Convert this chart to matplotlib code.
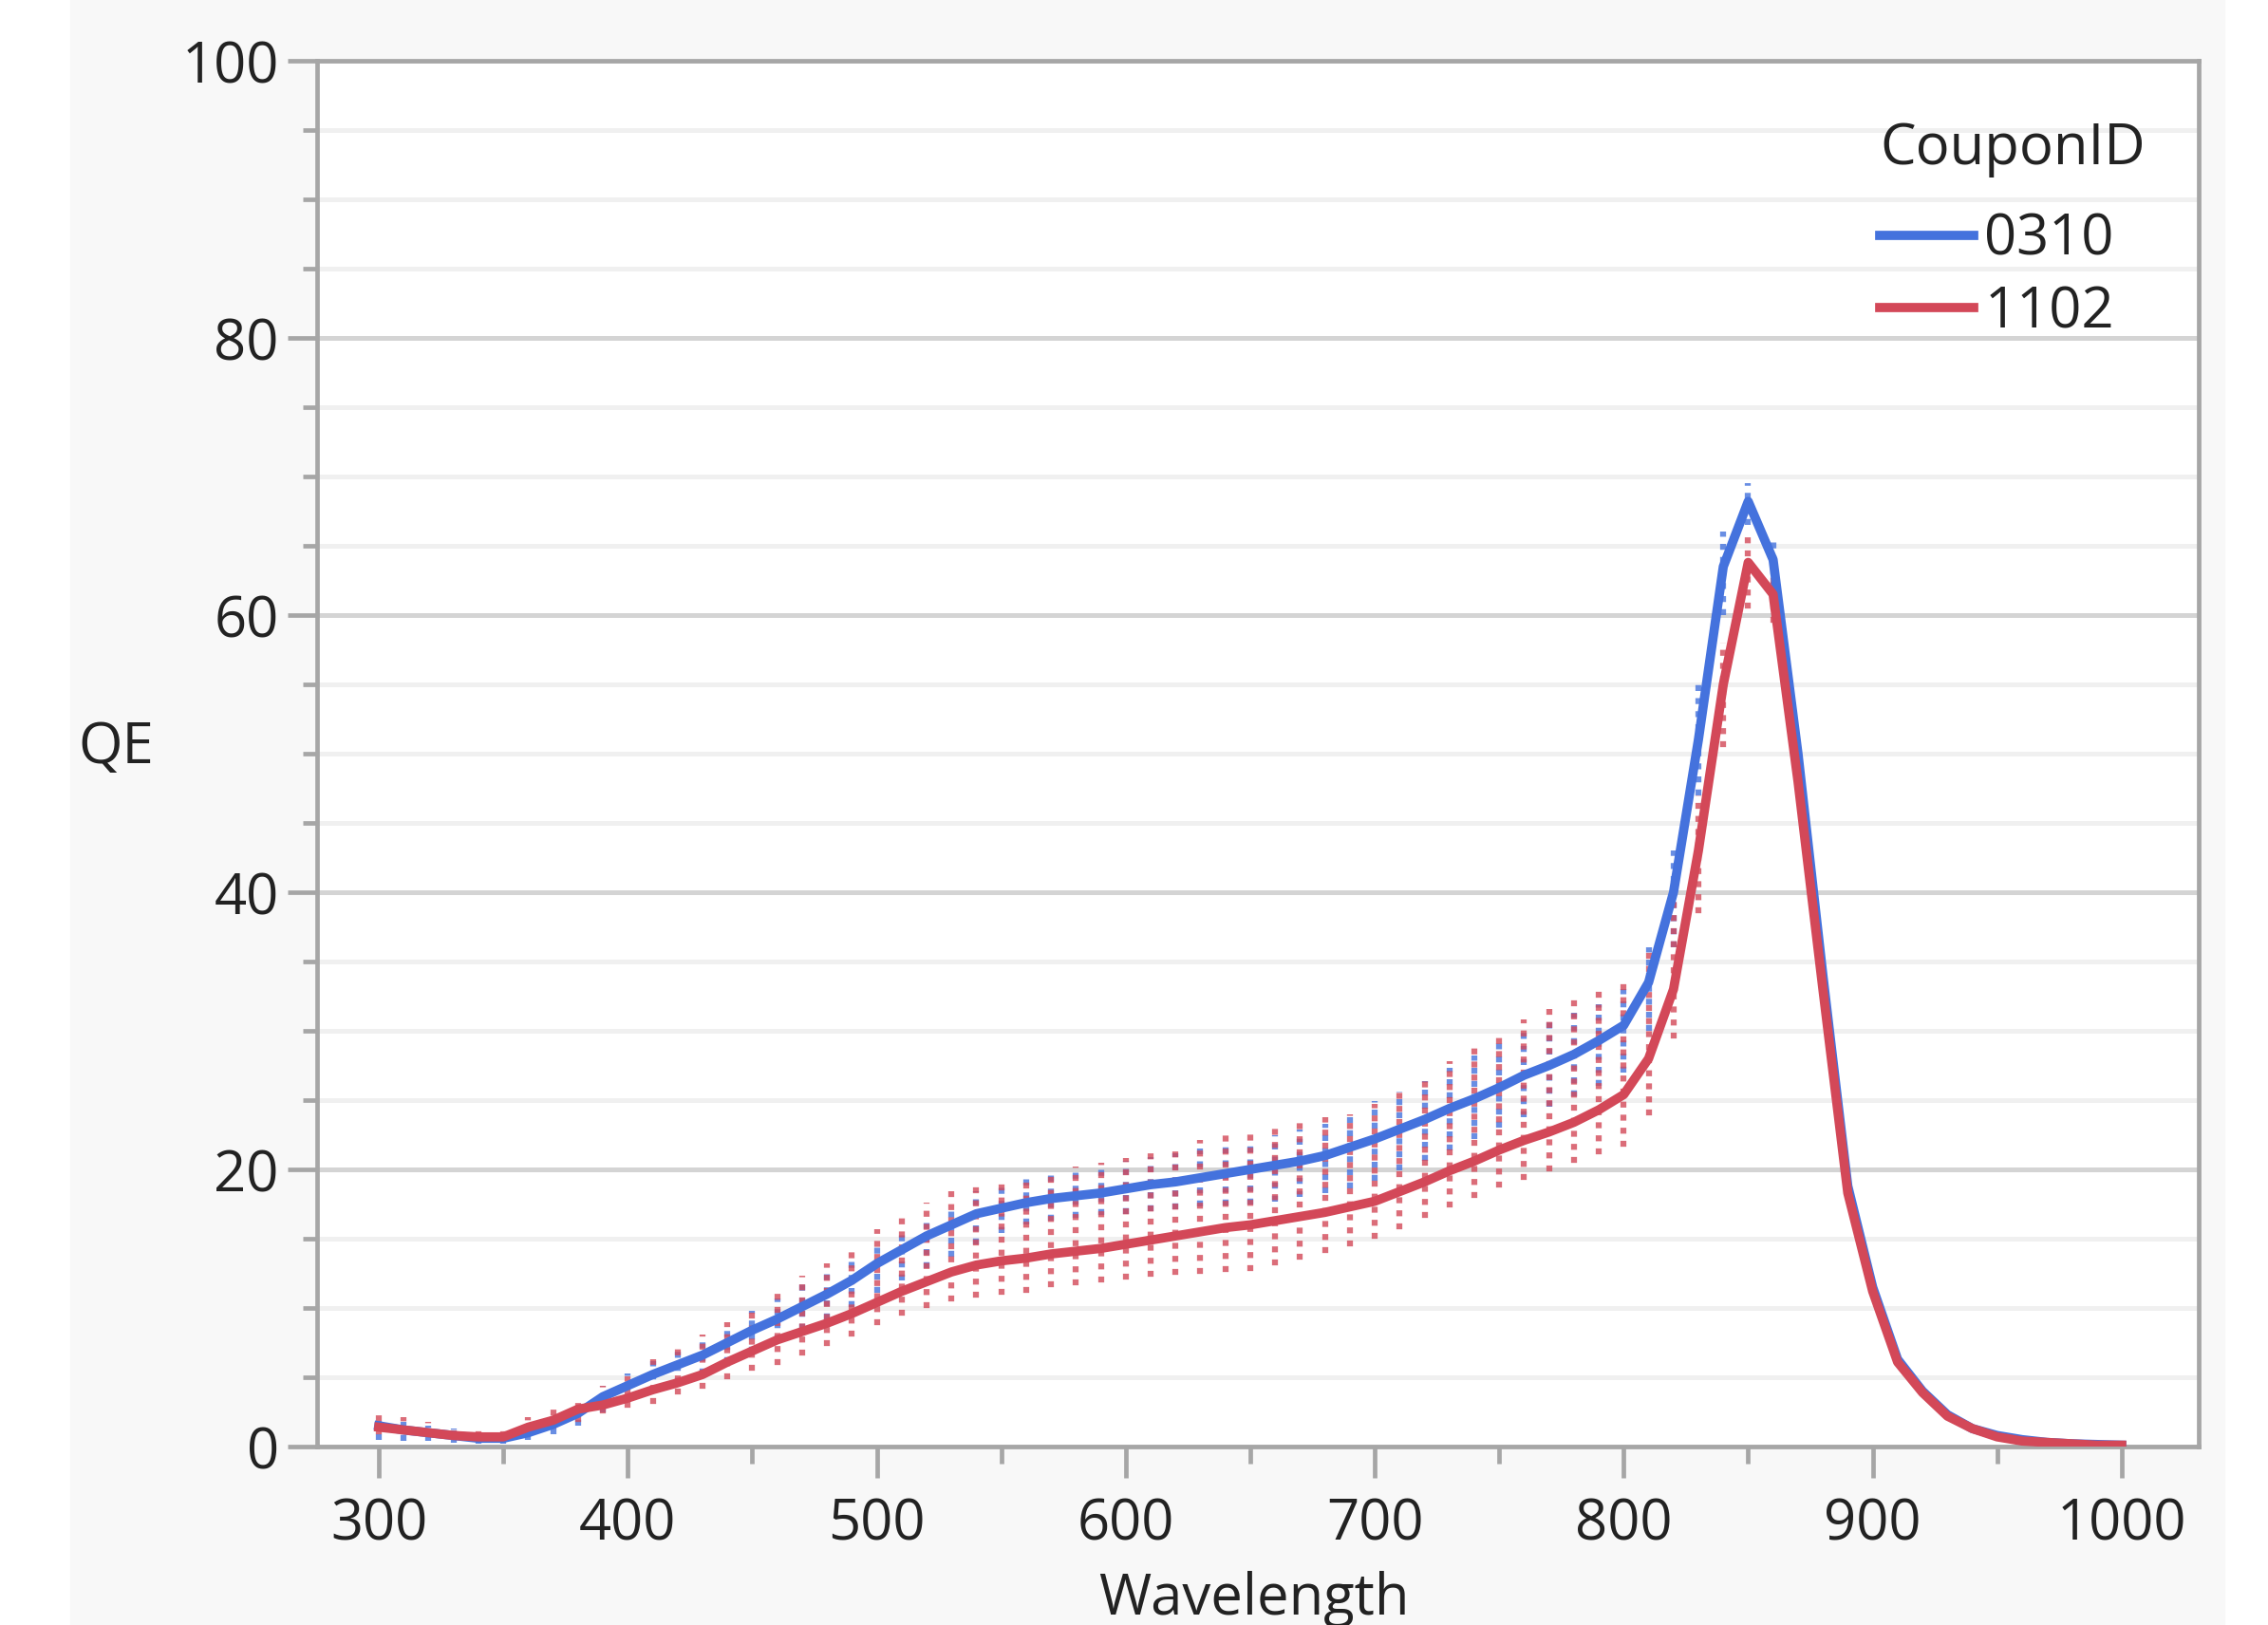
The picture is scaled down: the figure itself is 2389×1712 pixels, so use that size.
import numpy as np
import matplotlib.pyplot as plt
from matplotlib.patches import Rectangle
from matplotlib.ticker import MultipleLocator

plt.rcParams['font.family'] = ['Open Sans', 'DejaVu Sans']

# mean QE per coupon, 300..1000 nm every 10 nm
wavelength = np.arange(300, 1010, 10)
qe_0310 = [1.5, 1.2, 1.0, 0.8, 0.6, 0.6, 1.0, 1.6, 2.4, 3.6,
           4.4, 5.2, 5.9, 6.6, 7.5, 8.4, 9.2, 10.1, 11.0, 12.0,
           13.2, 14.2, 15.2, 16.0, 16.8, 17.2, 17.6, 17.9, 18.1, 18.3,
           18.6, 18.9, 19.1, 19.4, 19.7, 20.0, 20.3, 20.6, 21.0, 21.6,
           22.2, 22.9, 23.6, 24.4, 25.1, 25.9, 26.8, 27.5, 28.3, 29.3,
           30.4, 33.5, 40.0, 51.0, 63.5, 68.2, 64.0, 50.0, 34.0, 18.8,
           11.5, 6.3, 4.0, 2.3, 1.3, 0.8, 0.5, 0.3, 0.2, 0.15, 0.1]
qe_1102 = [1.4, 1.2, 1.0, 0.8, 0.7, 0.7, 1.4, 1.9, 2.7, 3.0,
           3.5, 4.1, 4.6, 5.2, 6.1, 6.9, 7.7, 8.3, 8.9, 9.6,
           10.4, 11.2, 11.9, 12.6, 13.1, 13.4, 13.6, 13.9, 14.1, 14.3,
           14.6, 14.9, 15.2, 15.5, 15.8, 16.0, 16.3, 16.6, 16.9, 17.3,
           17.7, 18.4, 19.1, 19.9, 20.6, 21.4, 22.1, 22.7, 23.4, 24.3,
           25.4, 28.0, 33.0, 43.0, 55.0, 63.8, 61.5, 48.0, 33.0, 18.3,
           11.2, 6.1, 3.9, 2.2, 1.3, 0.7, 0.4, 0.3, 0.2, 0.1, 0.1]

# spread of individual measurements, 300..860 nm
dot_wavelength = np.arange(300, 870, 10)
lo_0310 = [0.5, 0.4, 0.4, 0.3, 0.2, 0.2, 0.5, 0.9, 1.5, 2.5,
           3.2, 3.9, 4.5, 5.2, 6.0, 6.8, 7.6, 8.4, 9.2, 10.1,
           11.1, 12.0, 12.9, 13.7, 14.6, 15.4, 16.0, 16.3, 16.5, 16.7,
           16.8, 17.0, 17.1, 17.3, 17.4, 17.5, 17.7, 18.0, 18.3, 18.6,
           19.2, 19.9, 20.6, 21.4, 22.2, 23.0, 23.8, 24.5, 25.3, 26.0,
           27.0, 30.0, 36.0, 47.0, 60.0, 66.5, 62.0]
hi_0310 = [2.3, 1.8, 1.5, 1.3, 1.1, 1.1, 1.6, 2.2, 3.0, 4.4,
           5.3, 6.2, 7.0, 7.9, 8.8, 9.8, 10.7, 11.7, 12.6, 13.6,
           14.7, 15.7, 16.6, 17.5, 18.4, 18.9, 19.4, 19.8, 20.1, 20.3,
           20.6, 20.9, 21.2, 21.5, 21.8, 22.1, 22.5, 22.9, 23.3, 23.8,
           24.9, 25.6, 26.4, 27.3, 28.2, 29.1, 30.0, 30.8, 31.3, 31.9,
           33.0, 36.0, 43.0, 55.0, 66.0, 69.5, 65.5]
lo_1102 = [0.4, 0.4, 0.3, 0.3, 0.2, 0.2, 0.5, 0.8, 1.3, 1.9,
           2.3, 2.6, 3.3, 3.7, 4.4, 5.0, 5.4, 6.1, 6.8, 7.5,
           8.3, 9.0, 9.5, 10.0, 10.3, 10.5, 10.6, 11.0, 11.2, 11.4,
           11.6, 11.8, 11.9, 12.0, 12.1, 12.2, 12.6, 13.0, 13.5, 14.0,
           14.5, 15.2, 16.0, 16.8, 17.5, 18.2, 18.8, 19.4, 20.0, 20.6,
           21.2, 23.4, 29.0, 38.0, 50.0, 60.0, 59.0]
hi_1102 = [2.7, 2.1, 1.8, 1.5, 1.3, 1.3, 2.1, 2.7, 3.4, 4.4,
           5.1, 6.3, 7.1, 8.1, 9.0, 10.1, 11.1, 12.3, 13.2, 14.4,
           15.7, 16.7, 17.6, 18.4, 18.9, 19.2, 19.4, 19.8, 20.2, 20.5,
           20.8, 21.2, 21.7, 22.1, 22.6, 23.0, 23.3, 23.5, 23.8, 24.0,
           24.7, 25.6, 26.6, 27.8, 28.8, 29.8, 30.8, 31.6, 32.4, 33.1,
           33.5, 36.0, 40.0, 47.0, 58.0, 66.0, 63.0]

blue = '#4472DD'
red = '#D34858'
axis_gray = '#a6a6a6'
text_col = '#222222'

fig = plt.figure(figsize=(23.89, 17.12), dpi=100)
bg = Rectangle((0.031, 0), 0.9497, 1, transform=fig.transFigure,
               color='#f8f8f8', zorder=-10)
fig.add_artist(bg)
ax = fig.add_axes([0.1398, 0.1098, 0.8296, 0.8528])
ax.set_facecolor('white')

# dotted columns of the replicate measurements (dashes interleaved)
ax.vlines(dot_wavelength, lo_0310, hi_0310, colors=blue, alpha=0.8,
          linewidth=4.5, linestyles=(0, (1.0, 1.2)), zorder=2)
ax.vlines(dot_wavelength, lo_1102, hi_1102, colors=red, alpha=0.8,
          linewidth=4.5, linestyles=(1.1, (1.0, 1.2)), zorder=2)

l1, = ax.plot(wavelength, qe_0310, color=blue, linewidth=7, label='0310', zorder=3)
l2, = ax.plot(wavelength, qe_1102, color=red, linewidth=7, label='1102', zorder=3)

ax.set_xlim(275.2, 1030.9)
ax.set_ylim(0, 100)
ax.xaxis.set_major_locator(MultipleLocator(100))
ax.xaxis.set_minor_locator(MultipleLocator(50))
ax.yaxis.set_major_locator(MultipleLocator(20))
ax.yaxis.set_minor_locator(MultipleLocator(5))

ax.set_axisbelow(True)
ax.yaxis.grid(True, which='major', color='#d4d4d4', linewidth=3.6)
ax.yaxis.grid(True, which='minor', color='#f0f0f0', linewidth=3.6)

for sp in ax.spines.values():
    sp.set_color(axis_gray)
    sp.set_linewidth(3.4)

ax.tick_params(axis='both', which='both', color=axis_gray, width=3.4,
               labelsize=43, labelcolor=text_col)
ax.tick_params(axis='y', which='major', length=22, pad=7)
ax.tick_params(axis='y', which='minor', length=11)
ax.tick_params(axis='x', which='major', length=24, pad=14)
ax.tick_params(axis='x', which='minor', length=13)

ax.set_ylabel('QE', fontsize=43, color=text_col, rotation=0, ha='center', va='center')
ax.yaxis.set_label_coords(-0.107, 0.504)
ax.set_xlabel('Wavelength', fontsize=43, color=text_col, va='center')
ax.xaxis.set_label_coords(0.498, -0.11)

leg = ax.legend(handles=[l1, l2], title='CouponID', loc='upper left',
                bbox_to_anchor=(0.8305, 0.957), frameon=False, fontsize=43,
                title_fontsize=43, handlelength=1.65, handletextpad=0.2,
                labelspacing=0.27, borderaxespad=0, borderpad=0, alignment='left')
leg._legend_box.sep = 26
leg.get_title().set_color(text_col)
for t in leg.get_texts():
    t.set_color(text_col)

fig.savefig('out.png', dpi=100, facecolor='white')
